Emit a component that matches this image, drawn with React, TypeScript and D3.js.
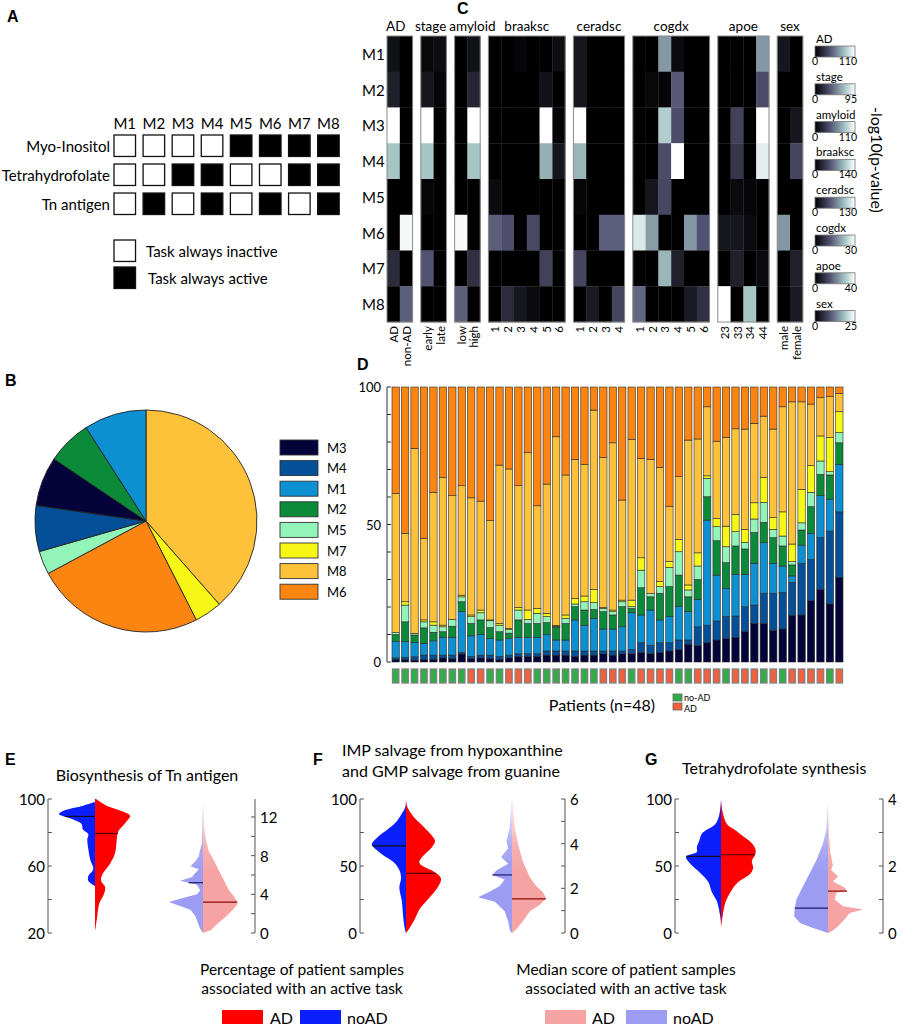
import React from 'react';
import * as d3 from 'd3';

const FONT = 'Lato, "Open Sans", sans-serif';
const BOLD = '"Liberation Sans", Arial, sans-serif';

// ---------------- Panel A ----------------
const moduleNames = ['M1', 'M2', 'M3', 'M4', 'M5', 'M6', 'M7', 'M8'];
const taskNames = ['Myo-Inositol', 'Tetrahydrofolate', 'Tn antigen'];
const taskMyoInositol = [0, 0, 0, 0, 1, 1, 1, 1];
const taskTetrahydrofolate = [0, 0, 1, 1, 0, 0, 1, 1];
const taskTnAntigen = [0, 1, 0, 1, 0, 1, 0, 1];

// ---------------- Panel B ----------------
const pieModules = ['M8', 'M7', 'M6', 'M5', 'M4', 'M3', 'M2', 'M1'];
const pieShares = [38.6, 4.0, 24.7, 3.4, 6.7, 7.2, 6.5, 9.1];
const legendOrder = ['M3', 'M4', 'M1', 'M2', 'M5', 'M7', 'M8', 'M6'];
const moduleColors: Record<string, string> = {
  M3: '#05043a', M4: '#034f98', M1: '#0c90d2', M2: '#0b8a39',
  M5: '#92f4b8', M7: '#f7f716', M8: '#fdc23a', M6: '#fc8411',
};

// ---------------- Panel C ----------------
const hmGroupNames = ['AD', 'stage', 'amyloid', 'braaksc', 'ceradsc', 'cogdx', 'apoe', 'sex'];
const colsAD = ['AD', 'non-AD'];
const colsStage = ['early', 'late'];
const colsAmyloid = ['low', 'high'];
const colsBraaksc = ['1', '2', '3', '4', '5', '6'];
const colsCeradsc = ['1', '2', '3', '4'];
const colsCogdx = ['1', '2', '3', '4', '5', '6'];
const colsApoe = ['23', '33', '34', '44'];
const colsSex = ['male', 'female'];
// rows M1..M8, fraction of each colour bar
const hmAD = [[0.08, 0], [0.15, 0], [1, 0], [0.75, 0], [0, 0], [0, 0.97], [0.2, 0], [0, 0.42]];
const hmStage = [[0.04, 0.06], [0.1, 0.03], [1, 0], [0.75, 0], [0.03, 0], [0, 0], [0.38, 0], [0, 0]];
const hmAmyloid = [[0, 0.08], [0, 0.17], [0, 1], [0, 0.75], [0, 0], [0.98, 0], [0, 0.22], [0.42, 0]];
const hmBraaksc = [
  [0, 0, 0.03, 0, 0, 0.06], [0, 0, 0, 0, 0.08, 0], [0, 0, 0, 0, 1, 0.03], [0, 0, 0, 0, 0.68, 0.1],
  [0.05, 0, 0, 0, 0, 0], [0.42, 0.36, 0, 0.34, 0, 0], [0, 0, 0, 0, 0.3, 0], [0, 0.2, 0.1, 0.05, 0, 0],
];
const hmCeradsc = [
  [0.1, 0, 0, 0], [0.1, 0, 0, 0], [1, 0, 0, 0], [0.7, 0, 0, 0],
  [0.03, 0, 0, 0], [0, 0, 0.42, 0.42], [0.32, 0, 0, 0], [0, 0.12, 0, 0.32],
];
const hmCogdx = [
  [0, 0, 0.6, 0.05, 0, 0], [0, 0.04, 0.03, 0.4, 0, 0], [0, 0, 0.78, 0.35, 0, 0], [0, 0, 0.35, 1, 0, 0],
  [0, 0.1, 0.33, 0, 0, 0], [0.9, 0.62, 0, 0, 0.6, 0.38], [0, 0, 0.7, 0.15, 0, 0], [0.45, 0, 0, 0, 0.12, 0.22],
];
const hmApoe = [
  [0, 0, 0, 0.6], [0, 0, 0, 0.35], [0, 0.3, 0, 1], [0, 0.25, 0, 0.92],
  [0, 0.05, 0.03, 0], [0.1, 0.1, 0.05, 0], [0, 0.15, 0, 0.05], [1, 0, 0.75, 0],
];
const hmSex = [[0.1, 0], [0, 0], [0, 0.1], [0, 0.32], [0, 0], [0.6, 0], [0, 0.15], [0, 0.12]];
const colorbarMax = [110, 95, 110, 140, 130, 30, 40, 25];

// ---------------- Panel D ----------------
const stackKeys = ['M3', 'M4', 'M1', 'M2', 'M5', 'M7', 'M8', 'M6'];
// cumulative upper edge (%) of each module per patient
const topM3 = [0.9,1.0,0.7,1.0,1.0,1.5,1.3,2.9,1.2,1.5,1.3,1.0,1.5,2.0,2.0,2.0,2.5,2.5,2.5,2.0,2.5,2.5,3.0,2.5,3.0,3.0,3.5,3.0,3.5,4.0,4.5,6.5,6.0,7.0,8.0,8.5,9.0,11.0,14.0,14.0,11.5,12.0,17.0,17.1,22.3,26.4,21.1,30.8];
const topM4 = [1.5,1.7,1.9,2.5,2.5,2.5,2.5,3.5,2.0,2.5,2.5,2.0,2.5,3.0,3.0,3.0,4.0,4.0,4.0,4.0,4.0,4.0,4.0,4.0,4.0,4.5,7.0,6.0,7.0,7.0,8.0,8.0,12.8,13.4,14.9,16.5,16.7,20.1,20.7,25.0,25.0,25.3,29.0,35.9,37.3,45.3,47.6,54.6];
const topM1 = [7.4,7.4,7.0,6.8,7.7,9.0,9.0,18.3,9.5,10.0,8.5,8.0,8.5,9.0,9.0,9.0,10.0,8.0,8.0,15.3,13.4,15.9,12.0,12.0,12.8,17.9,17.1,18.9,15.3,16.5,20.3,18.3,22.8,51.6,31.6,26.8,31.9,31.9,35.9,43.4,35.9,34.9,31.3,42.5,46.8,60.5,59.2,71.9];
const topM2 = [10.0,14.6,9.8,12.4,10.8,11.0,13.0,21.9,14.0,15.3,12.5,11.0,10.5,15.3,14.0,14.0,14.3,12.7,14.0,20.1,18.9,19.1,18.3,17.1,20.1,19.5,27.0,23.7,25.0,27.4,31.6,23.7,30.0,60.1,44.1,36.1,42.2,41.1,47.1,50.8,45.2,42.2,35.3,48.0,56.5,68.2,68.0,79.7];
const topM5 = [10.7,20.7,10.4,14.6,13.4,12.8,15.5,23.7,16.5,17.9,15.0,13.4,11.8,18.9,15.5,17.7,16.5,13.0,15.9,21.1,21.9,21.6,19.5,18.3,21.9,20.1,33.4,24.9,27.4,34.4,40.1,26.2,34.9,66.8,49.2,41.9,47.4,43.5,52.0,58.0,48.2,45.8,36.5,50.6,61.7,73.1,69.2,83.4];
const topM7 = [10.7,21.9,10.4,15.3,14.6,13.4,15.5,24.3,17.1,18.9,15.3,14.0,12.2,19.9,18.9,19.5,17.7,13.3,17.1,23.1,24.0,26.4,19.9,18.9,22.5,22.5,37.9,24.9,29.2,36.5,44.6,28.0,39.7,67.7,52.2,49.4,53.7,48.2,57.9,67.1,52.5,54.6,42.9,62.8,71.4,82.2,81.6,91.0];
const topM8 = [61.3,46.8,77.7,45.0,61.7,67.1,60.5,64.1,59.7,58.5,51.4,71.6,70.2,64.1,76.1,56.8,64.7,81.9,68.0,73.7,71.9,91.6,74.4,79.7,58.9,81.0,74.0,73.7,70.8,56.5,67.4,80.7,81.1,92.8,80.3,81.7,84.8,84.7,86.8,89.4,84.7,92.8,94.6,94.6,93.8,96.1,96.5,97.7];
const patientAD = [0,0,0,0,0,0,0,0,1,1,0,0,1,1,1,0,0,0,0,0,0,0,1,1,1,0,1,1,1,1,0,0,1,1,1,0,1,1,1,0,1,0,1,1,1,1,0,1];
const yTicksD = [0, 10, 20, 30, 40, 50, 60, 70, 80, 90, 100];
const yLabelsD = [0, 50, 100];

// ---------------- Panels E, F, G ----------------
// [value, relative density]
const eNoADPct = [[98,0.03],[96,0.33],[93,0.9],[91,1.03],[88,0.66],[85,0.38],[82,0.35],[79,0.19],[76,0.22],[70,0.19],[64,0.14],[58,0.05],[54,0.19],[51,0.19],[48,0]];
const eADPct = [[100,0.03],[96,0.33],[92.5,0.8],[90,1.0],[85.5,0.86],[80.4,0.66],[75.4,0.62],[67.4,0.57],[61.4,0.43],[55.4,0.22],[51.4,0.17],[47.4,0.29],[43.4,0.26],[37.4,0.12],[29.4,0.06],[22,0.01]];
const eNoADScore = [[13.5,0.01],[9.3,0.03],[8.5,0.09],[7.9,0.12],[7.4,0.22],[6.9,0.36],[6.6,0.12],[6.0,0.27],[5.8,0.31],[5.4,0.65],[5.0,0.17],[4.4,0.08],[4.0,0.17],[3.6,0.6],[3.2,0.97],[2.9,0.74],[2.4,0.36],[1.8,0.23],[1.3,0.17],[0.5,0.09],[0,0]];
const eADScore = [[13.5,0.01],[11,0.03],[9.5,0.09],[8.5,0.16],[7.5,0.31],[6.5,0.45],[5.5,0.59],[4.5,0.73],[3.8,0.88],[3.3,0.97],[3.0,0.99],[2.5,0.88],[1.8,0.69],[1.0,0.43],[0.3,0.23],[0,0]];
const eMedians = [89.6, 79.4, 5.2, 3.2];

const fNoADPct = [[100,0],[94,0.02],[87,0.17],[82,0.31],[77,0.54],[72,0.79],[66,0.98],[63,0.89],[58,0.65],[53,0.36],[47,0.19],[41,0.14],[34,0.19],[24,0.12],[12,0.08],[4,0.04],[0,0]];
const fADPct = [[100,0],[94,0.04],[87,0.21],[79.7,0.49],[72,0.76],[68.6,0.83],[63.7,0.73],[57.6,0.49],[52.7,0.38],[49,0.54],[46,0.78],[40.6,1.0],[33,0.88],[25.6,0.64],[18.2,0.4],[10.8,0.26],[4,0.11],[0,0]];
const fNoADScore = [[6,0.01],[4.7,0.07],[4.1,0.16],[3.8,0.11],[3.4,0.31],[3.1,0.11],[2.8,0.45],[2.6,0.56],[2.4,0.21],[2.1,0.35],[1.85,0.64],[1.6,0.97],[1.4,0.49],[0.97,0.21],[0.53,0.11],[0.1,0.06],[0,0]];
const fADScore = [[6,0.01],[4.7,0.08],[4.0,0.17],[3.2,0.31],[2.5,0.51],[2.1,0.69],[1.85,0.87],[1.56,0.98],[1.25,0.79],[0.97,0.51],[0.53,0.31],[0.2,0.14],[0,0]];
const fMedians = [65, 44.5, 2.6, 1.53];

const gNoADPct = [[100,0],[88,0.05],[81,0.17],[77,0.41],[74,0.55],[69,0.62],[64,0.69],[60.5,0.69],[57,1.0],[52,0.89],[45,0.6],[38,0.36],[31,0.27],[23.8,0.12],[16.5,0.05],[10,0.01],[5,0]];
const gADPct = [[100,0],[90,0.05],[81,0.18],[76,0.45],[71,0.69],[67,0.88],[62,0.99],[58.3,0.97],[53.6,0.88],[48.7,0.92],[44,0.83],[38,0.49],[31,0.28],[23.8,0.14],[16.5,0.07],[8,0.02],[4,0]];
const gNoADScore = [[4,0],[3.1,0.05],[2.67,0.14],[2.18,0.33],[1.69,0.57],[1.3,0.76],[1.01,0.9],[0.74,0.95],[0.5,0.97],[0.3,0.8],[0.15,0.43],[0.05,0.14],[0,0]];
const gADScore = [[4,0],[2.9,0.03],[2.37,0.07],[2.03,0.14],[1.88,0.09],[1.69,0.29],[1.54,0.14],[1.35,0.48],[1.25,0.54],[1.2,0.24],[1.0,0.19],[0.8,0.43],[0.7,1.0],[0.6,0.62],[0.42,0.48],[0.2,0.29],[0.05,0.11],[0,0]];
const gMedians = [57.2, 58.4, 0.74, 1.25];

const RED = '#fe0000';
const BLUE = '#0b1efc';
const PINK = '#f6a3a3';
const LBLUE = '#9c9cf2';

const bone = d3.scaleLinear<string>()
  .domain([0, 0.375, 0.75, 1])
  .range(['#000000', '#515171', '#a6c6c6', '#ffffff'])
  .interpolate(d3.interpolateRgb)
  .clamp(true);

function PanelLabel({ x, y, t }: { x: number; y: number; t: string }) {
  return <text x={x} y={y} fontFamily={BOLD} fontWeight="bold" fontSize={16}>{t}</text>;
}

function PanelA() {
  const ax = d3.scaleBand<string>().domain(moduleNames).range([114, 339.2]).paddingInner(0.26);
  const ay = d3.scaleBand<string>().domain(taskNames).range([135, 214.5]).paddingInner(0.26);
  const rows = [taskMyoInositol, taskTetrahydrofolate, taskTnAntigen];
  const bw = ax.bandwidth();
  return (
    <g>
      <PanelLabel x={7} y={22} t="A" />
      {moduleNames.map((m) => (
        <text key={m} x={(ax(m) as number) + bw / 2} y={129} textAnchor="middle" fontSize={15}>{m}</text>
      ))}
      {taskNames.map((t, i) => (
        <g key={t}>
          <text x={110} y={(ay(t) as number) + ay.bandwidth() / 2} textAnchor="end" dominantBaseline="central" fontSize={15}>{t}</text>
          {moduleNames.map((m, j) => (
            <rect key={m} x={ax(m)} y={ay(t)} width={bw} height={ay.bandwidth()}
              fill={rows[i][j] ? '#000' : '#fff'} stroke="#111" strokeWidth={1.3} />
          ))}
        </g>
      ))}
      <rect x={114} y={240} width={bw} height={ay.bandwidth()} fill="#fff" stroke="#111" strokeWidth={1.3} />
      <rect x={114} y={267} width={bw} height={ay.bandwidth()} fill="#000" stroke="#111" strokeWidth={1.3} />
      <text x={146} y={251} dominantBaseline="central" fontSize={15}>Task always inactive</text>
      <text x={148} y={278} dominantBaseline="central" fontSize={15}>Task always active</text>
    </g>
  );
}

function PanelB() {
  const data = pieModules.map((m, i) => ({ m, v: pieShares[i] }));
  const pie = d3.pie<{ m: string; v: number }>().sort(null).value((d) => d.v);
  const arc = d3.arc<d3.PieArcDatum<{ m: string; v: number }>>().innerRadius(0).outerRadius(111);
  const arcs = pie(data);
  return (
    <g>
      <PanelLabel x={5} y={386} t="B" />
      <g transform="translate(146,521)">
        {arcs.map((a) => (
          <path key={a.data.m} d={arc(a) as string} fill={moduleColors[a.data.m]} stroke="#222" strokeWidth={0.9} />
        ))}
      </g>
      {legendOrder.map((m, i) => (
        <g key={m}>
          <rect x={280} y={440 + i * 20.6} width={38} height={15} fill={moduleColors[m]} stroke="#333" strokeWidth={0.9} />
          <text x={327} y={440 + i * 20.6 + 7.5} dominantBaseline="central" fontSize={13}>{m}</text>
        </g>
      ))}
    </g>
  );
}

const headerNudge: Record<string, number> = { AD: -4, stage: -3, amyloid: 5 };

function PanelC() {
  const groupCols = [colsAD, colsStage, colsAmyloid, colsBraaksc, colsCeradsc, colsCogdx, colsApoe, colsSex];
  const groupVals = [hmAD, hmStage, hmAmyloid, hmBraaksc, hmCeradsc, hmCogdx, hmApoe, hmSex];
  const cellW = 12.8;
  const gap = 8.2;
  const ry = d3.scaleBand<string>().domain(moduleNames).range([36, 322]);
  const starts: number[] = [];
  let cur = 387;
  groupCols.forEach((c) => { starts.push(cur); cur += c.length * cellW + gap; });
  const cbStops = d3.range(0, 1.0001, 0.125);
  return (
    <g>
      <PanelLabel x={457} y={14} t="C" />
      <defs>
        <linearGradient id="boneGrad" x1="0" x2="1" y1="0" y2="0">
          {cbStops.map((s) => <stop key={s} offset={s} stopColor={bone(s)} />)}
        </linearGradient>
      </defs>
      {moduleNames.map((m) => (
        <text key={m} x={362} y={(ry(m) as number) + ry.bandwidth() / 2} dominantBaseline="central" fontSize={15}>{m}</text>
      ))}
      {hmGroupNames.map((g, gi) => {
        const cols = groupCols[gi];
        const x0 = starts[gi];
        const w = cols.length * cellW;
        return (
          <g key={g}>
            <text x={x0 + w / 2 + (headerNudge[g] || 0)} y={31} textAnchor="middle" fontSize={13.5}>{g}</text>
            {moduleNames.map((m, ri) => cols.map((c, ci) => (
              <rect key={m + c} x={x0 + ci * cellW} y={ry(m)} width={cellW + 0.3} height={ry.bandwidth() + 0.3}
                fill={bone(groupVals[gi][ri][ci])} />
            )))}
            <rect x={x0} y={36} width={w} height={286} fill="none" stroke="#8a8a8a" strokeWidth={1} />
            {cols.map((c, ci) => (
              <text key={c} transform={`translate(${x0 + ci * cellW + cellW / 2},326) rotate(-90)`}
                textAnchor="end" dominantBaseline="central" fontSize={11.5}>{c}</text>
            ))}
          </g>
        );
      })}
      {hmGroupNames.map((g, i) => {
        const by = 46 + i * 37.8;
        return (
          <g key={'cb' + g}>
            <text x={816} y={by - 3} fontSize={11.5}>{g}</text>
            <rect x={815} y={by} width={40} height={11} fill="url(#boneGrad)" stroke="#777" strokeWidth={0.8} />
            <text x={812} y={by + 19} fontSize={10.5}>0</text>
            <text x={857} y={by + 19} fontSize={10.5} textAnchor="end">{colorbarMax[i]}</text>
          </g>
        );
      })}
      <text transform="translate(877,160) rotate(90)" textAnchor="middle" dominantBaseline="central" fontSize={16}>-log10(p-value)</text>
    </g>
  );
}

function PanelD() {
  const tops = [topM3, topM4, topM1, topM2, topM5, topM7, topM8];
  const rows = d3.range(48).map((k) => {
    const row: Record<string, number> = {};
    let prev = 0;
    tops.forEach((t, i) => { row[stackKeys[i]] = t[k] - prev; prev = t[k]; });
    row.M6 = 100 - prev;
    return row;
  });
  const series = d3.stack<Record<string, number>>().keys(stackKeys)(rows);
  const dx = d3.scaleBand<number>().domain(d3.range(48)).range([392, 843]).paddingInner(0.22);
  const dy = d3.scaleLinear().domain([0, 100]).range([662, 387]);
  const sqW = 6.4;
  return (
    <g>
      <PanelLabel x={357} y={370} t="D" />
      <line x1={387} x2={387} y1={dy(0)} y2={dy(100)} stroke="#333" strokeWidth={1} />
      {yTicksD.map((t) => <line key={t} x1={387} x2={391} y1={dy(t)} y2={dy(t)} stroke="#333" strokeWidth={1} />)}
      {yLabelsD.map((t) => (
        <text key={t} x={381} y={dy(t)} textAnchor="end" dominantBaseline="central" fontSize={13}>{t}</text>
      ))}
      {series.map((s) => (
        <g key={s.key} fill={moduleColors[s.key]}>
          {s.map((d, k) => (
            <rect key={k} x={dx(k)} width={dx.bandwidth()} y={dy(d[1])} height={Math.max(0, dy(d[0]) - dy(d[1]))}
              stroke="#2a2a2a" strokeWidth={0.6} />
          ))}
        </g>
      ))}
      {patientAD.map((a, k) => (
        <rect key={'p' + k} x={(dx(k) as number) + dx.bandwidth() / 2 - sqW / 2} y={669} width={sqW} height={14}
          fill={a ? '#f2603e' : '#2fae48'} stroke="#808080" strokeWidth={1.3} />
      ))}
      <text x={602} y={704} textAnchor="middle" dominantBaseline="central" fontSize={16}>Patients (n=48)</text>
      <rect x={673} y={694} width={9} height={7} fill="#2fae48" stroke="#666" strokeWidth={0.8} />
      <rect x={673} y={703} width={9} height={7} fill="#f2603e" stroke="#666" strokeWidth={0.8} />
      <text x={684} y={697} dominantBaseline="central" fontSize={9}>no-AD</text>
      <text x={684} y={708.5} dominantBaseline="central" fontSize={9}>AD</text>
    </g>
  );
}

type Prof = number[][];

function HalfViolin({ cx, ys, prof, side, color, smooth }: { cx: number; ys: d3.ScaleLinear<number, number>; prof: Prof; side: number; color: string; smooth: boolean }) {
  const ws = d3.scaleLinear().domain([0, 1]).range([0, 35]);
  const area = d3.area<number[]>()
    .y((d) => ys(d[0]))
    .x0(cx)
    .x1((d) => cx + side * ws(d[1]))
    .curve(smooth ? d3.curveCatmullRom : d3.curveLinear);
  return <path d={area(prof) as string} fill={color} />;
}

function MedianLine({ cx, ys, prof, side, v, color }: { cx: number; ys: d3.ScaleLinear<number, number>; prof: Prof; side: number; v: number; color: string }) {
  const ws = d3.scaleLinear().domain([0, 1]).range([0, 35]);
  const dens = d3.scaleLinear().domain(prof.map((p) => p[0])).range(prof.map((p) => p[1]));
  const w = ws(dens(v));
  return <line x1={cx} x2={cx + side * w} y1={ys(v)} y2={ys(v)} stroke={color} strokeWidth={1.2} />;
}

function VAxis({ x, scale, ticks, labels, side }: { x: number; scale: d3.ScaleLinear<number, number>; ticks: number[]; labels: number[]; side: 'left' | 'right' }) {
  const r = scale.range();
  const dir = side === 'left' ? 1 : -1;
  return (
    <g>
      <line x1={x} x2={x} y1={r[0]} y2={r[1]} stroke="#555" strokeWidth={1} />
      {ticks.map((t) => <line key={t} x1={x} x2={x + dir * 4} y1={scale(t)} y2={scale(t)} stroke="#555" strokeWidth={1} />)}
      {labels.map((t) => (
        <text key={'l' + t} x={side === 'left' ? x - 3 : x + 5} y={scale(t)} textAnchor={side === 'left' ? 'end' : 'start'}
          dominantBaseline="central" fontSize={15}>{t}</text>
      ))}
    </g>
  );
}

function ViolinPanel({ cfg }: { cfg: any }) {
  const ysL = d3.scaleLinear().domain(cfg.leftDomain).range([933, 799]);
  const ysR = d3.scaleLinear().domain(cfg.rightDomain).range([933, 799]);
  return (
    <g>
      <VAxis x={cfg.axL} scale={ysL} ticks={cfg.ticksL} labels={cfg.labelsL} side="left" />
      <VAxis x={cfg.axR} scale={ysR} ticks={cfg.ticksR} labels={cfg.labelsR} side="right" />
      <HalfViolin cx={cfg.c1} ys={ysL} prof={cfg.noADPct} side={-1} color={BLUE} smooth />
      <HalfViolin cx={cfg.c1} ys={ysL} prof={cfg.adPct} side={1} color={RED} smooth />
      <MedianLine cx={cfg.c1} ys={ysL} prof={cfg.noADPct} side={-1} v={cfg.med[0]} color="#111" />
      <MedianLine cx={cfg.c1} ys={ysL} prof={cfg.adPct} side={1} v={cfg.med[1]} color="#4a0000" />
      <HalfViolin cx={cfg.c2} ys={ysR} prof={cfg.noADScore} side={-1} color="url(#fadeBlue)" smooth={false} />
      <HalfViolin cx={cfg.c2} ys={ysR} prof={cfg.adScore} side={1} color="url(#fadePink)" smooth={false} />
      <MedianLine cx={cfg.c2} ys={ysR} prof={cfg.noADScore} side={-1} v={cfg.med[2]} color="#1c1c6e" />
      <MedianLine cx={cfg.c2} ys={ysR} prof={cfg.adScore} side={1} v={cfg.med[3]} color="#8a0a0a" />
    </g>
  );
}

function PanelsEFG() {
  const e = {
    leftDomain: [20, 100], rightDomain: [0, 13.86], axL: 48, axR: 255, c1: 95, c2: 203,
    ticksL: [20, 40, 60, 80, 100], labelsL: [20, 60, 100], ticksR: [0, 2, 4, 6, 8, 10, 12], labelsR: [0, 4, 8, 12],
    noADPct: eNoADPct, adPct: eADPct, noADScore: eNoADScore, adScore: eADScore, med: eMedians,
  };
  const f = {
    leftDomain: [0, 100], rightDomain: [0, 6], axL: 360, axR: 565, c1: 406, c2: 512,
    ticksL: [0, 25, 50, 75, 100], labelsL: [0, 50, 100], ticksR: [0, 1, 2, 3, 4, 5, 6], labelsR: [0, 2, 4, 6],
    noADPct: fNoADPct, adPct: fADPct, noADScore: fNoADScore, adScore: fADScore, med: fMedians,
  };
  const g = {
    leftDomain: [0, 100], rightDomain: [0, 4], axL: 675, axR: 883, c1: 721, c2: 828,
    ticksL: [0, 25, 50, 75, 100], labelsL: [0, 50, 100], ticksR: [0, 1, 2, 3, 4], labelsR: [0, 2, 4],
    noADPct: gNoADPct, adPct: gADPct, noADScore: gNoADScore, adScore: gADScore, med: gMedians,
  };
  return (
    <g>
      <defs>
        <linearGradient id="fadeBlue" gradientUnits="userSpaceOnUse" x1="0" x2="0" y1="799" y2="933">
          <stop offset="0" stopColor={LBLUE} stopOpacity={0.12} />
          <stop offset="0.35" stopColor={LBLUE} stopOpacity={0.85} />
          <stop offset="0.55" stopColor={LBLUE} stopOpacity={1} />
        </linearGradient>
        <linearGradient id="fadePink" gradientUnits="userSpaceOnUse" x1="0" x2="0" y1="799" y2="933">
          <stop offset="0" stopColor={PINK} stopOpacity={0.12} />
          <stop offset="0.35" stopColor={PINK} stopOpacity={0.85} />
          <stop offset="0.55" stopColor={PINK} stopOpacity={1} />
        </linearGradient>
      </defs>
      <PanelLabel x={5} y={765} t="E" />
      <text x={147} y={781} textAnchor="middle" fontSize={16}>Biosynthesis of Tn antigen</text>
      <PanelLabel x={313} y={765} t="F" />
      <text x={342} y={756} fontSize={16}>IMP salvage from hypoxanthine</text>
      <text x={342} y={777} fontSize={16}>and GMP salvage from guanine</text>
      <PanelLabel x={645} y={765} t="G" />
      <text x={682} y={774} fontSize={16}>Tetrahydrofolate synthesis</text>
      <ViolinPanel cfg={e} />
      <ViolinPanel cfg={f} />
      <ViolinPanel cfg={g} />
      <text x={302} y={975} textAnchor="middle" fontSize={15.5}>Percentage of patient samples</text>
      <text x={302} y={994} textAnchor="middle" fontSize={15.5}>associated with an active task</text>
      <text x={626} y={975} textAnchor="middle" fontSize={15.5}>Median score of patient samples</text>
      <text x={626} y={994} textAnchor="middle" fontSize={15.5}>associated with an active task</text>
      <rect x={222} y={1010} width={41} height={14} fill={RED} />
      <text x={270} y={1017} dominantBaseline="central" fontSize={16}>AD</text>
      <rect x={300} y={1010} width={41} height={14} fill={BLUE} />
      <text x={347} y={1017} dominantBaseline="central" fontSize={16}>noAD</text>
      <rect x={545} y={1010} width={41} height={14} fill={PINK} />
      <text x={592} y={1017} dominantBaseline="central" fontSize={16}>AD</text>
      <rect x={626} y={1010} width={41} height={14} fill={LBLUE} />
      <text x={673} y={1017} dominantBaseline="central" fontSize={16}>noAD</text>
    </g>
  );
}

export default function App() {
  return (
    <svg width={903} height={1029} viewBox="0 0 903 1029" fontFamily={FONT}
      style={{ position: 'absolute', left: 0, top: 0, background: '#fff' }}>
      <rect x={0} y={0} width={903} height={1029} fill="#fff" />
      <PanelA />
      <PanelB />
      <PanelC />
      <PanelD />
      <PanelsEFG />
    </svg>
  );
}
